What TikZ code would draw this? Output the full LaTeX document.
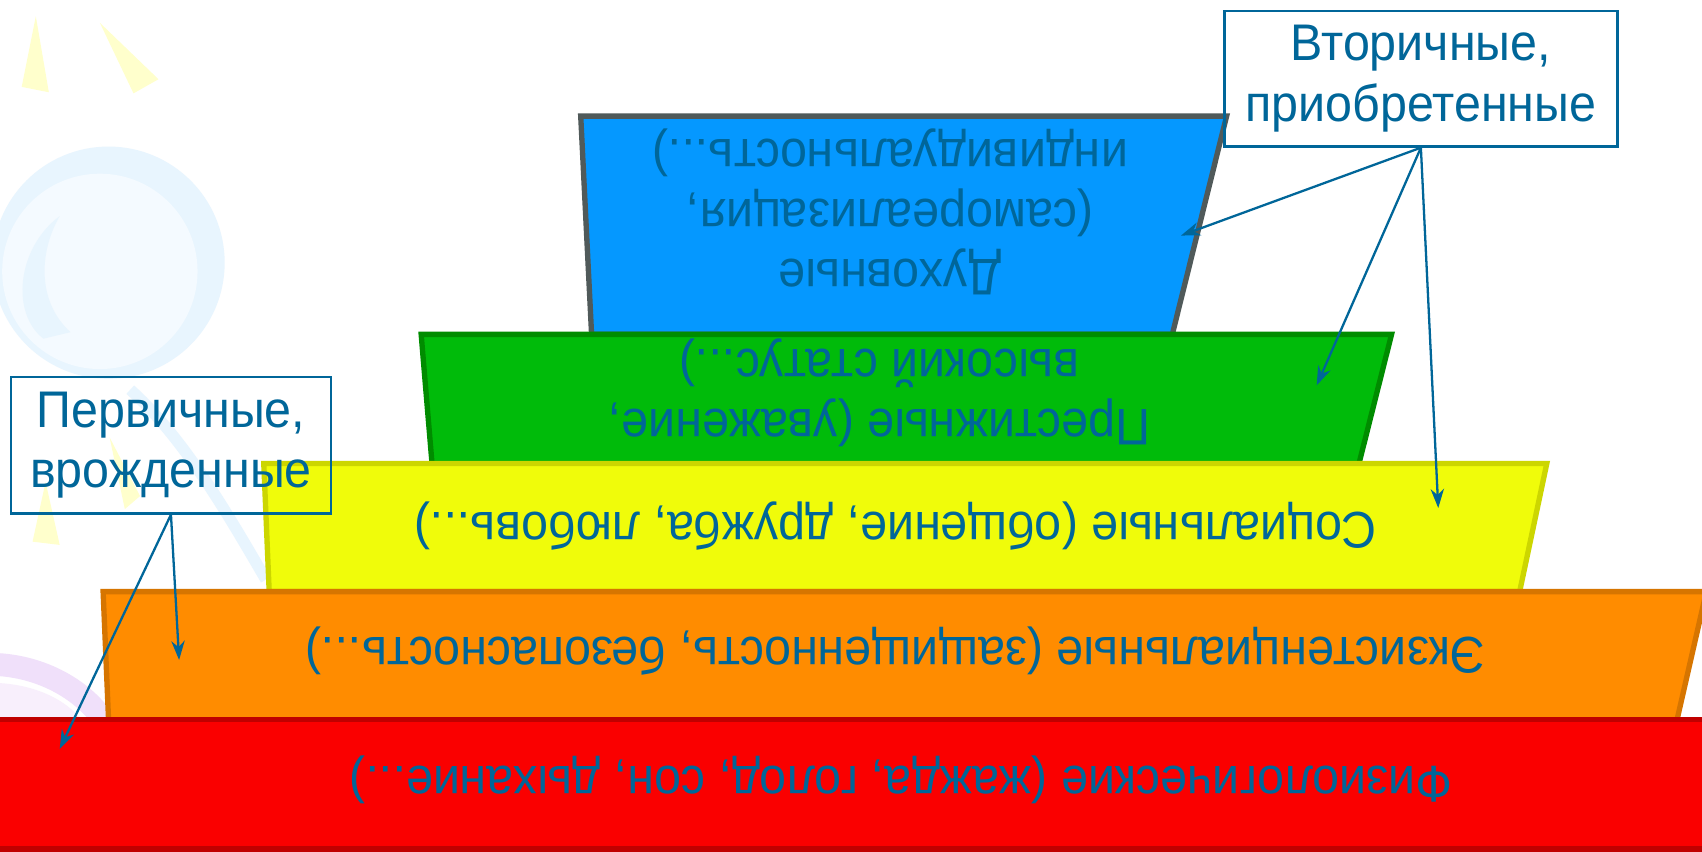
\documentclass[tikz,border=0pt]{standalone}
\usepackage{fontspec}
\setmainfont[FakeStretch=0.94]{Liberation Sans}
\usepackage{tikz}
\usetikzlibrary{arrows.meta, positioning, calc}
\definecolor{labelblue}{RGB}{0,102,153}
\definecolor{skyfill}{RGB}{5,152,255}
\definecolor{skyline}{RGB}{80,90,90}
\definecolor{grassfill}{RGB}{0,187,10}
\definecolor{grassline}{RGB}{0,140,0}
\definecolor{lemonfill}{RGB}{240,252,10}
\definecolor{lemonline}{RGB}{204,214,0}
\definecolor{amberfill}{RGB}{255,140,0}
\definecolor{amberline}{RGB}{214,117,0}
\definecolor{rubyfill}{RGB}{250,0,0}
\definecolor{rubyline}{RGB}{192,0,0}
\definecolor{paleyellow}{RGB}{255,255,204}
\definecolor{paleblue}{RGB}{232,245,254}
\definecolor{palerblue}{RGB}{244,250,255}
\definecolor{palepurple}{RGB}{240,224,250}

\begin{document}
\begin{tikzpicture}[
    layer/.style={line width=1.4pt, line join=miter},
    need/.style={
        rotate=180, align=center,
        text=labelblue,
        font=\fontsize{13.5}{15.8}\selectfont
    },
    tag/.style={
        rectangle, draw=labelblue, line width=0.6pt,
        align=center, text=labelblue,
        font=\fontsize{13.5}{15.8}\selectfont
    },
    arr/.style={-{Stealth[length=5pt, width=3.5pt]}, line width=0.6pt, color=labelblue},
]
\useasboundingbox (0,0) rectangle (15.68,7.84);
\fill[white] (0,0) rectangle (15.68,7.84);

% Background
\fill[paleyellow] (0.33,7.69) -- (0.20,7.04) -- (0.45,6.99) -- cycle;
\fill[paleyellow] (0.92,7.63) -- (1.46,7.11) -- (1.23,6.98) -- cycle;
\fill[paleblue] (1.00,5.42) circle (1.07);
\fill[palerblue] (0.92,5.34) circle (0.90);
\fill[paleblue] (0.55,5.85) .. controls (0.15,5.55) and (0.10,4.95) .. (0.40,4.72)
    -- (0.65,4.78) .. controls (0.35,5.05) and (0.35,5.50) .. (0.55,5.85) -- cycle;
\draw[paleblue, line width=3pt] (1.20,4.25) .. controls (1.70,3.80) and (2.10,3.10) .. (2.45,2.50);
\fill[paleyellow] (0.42,3.40) -- (0.30,2.85) -- (0.55,2.82) -- cycle;
\fill[paleyellow] (1.01,3.81) -- (1.29,3.27) -- (1.15,3.15) -- cycle;
\draw[palepurple, line width=6pt] (-0.1,1.72) .. controls (0.35,1.72) and (0.75,1.50) .. (0.95,1.21);
\fill[palepurple!50] (-0.1,1.55) .. controls (0.3,1.55) and (0.6,1.40) .. (0.75,1.21) -- (-0.1,1.21) -- cycle;

% Pyramid, top to bottom
\draw[layer, fill=skyfill, draw=skyline] (5.35,6.77) -- (11.30,6.77) -- (10.80,4.76) -- (5.45,4.76) -- cycle;
\draw[layer, fill=grassfill, draw=grassline] (3.88,4.76) -- (12.82,4.76) -- (12.52,3.57) -- (3.98,3.57) -- cycle;
\draw[layer, fill=lemonfill, draw=lemonline] (2.43,3.57) -- (14.25,3.57) -- (14.00,2.39) -- (2.48,2.39) -- cycle;
\draw[layer, fill=amberfill, draw=amberline] (0.95,2.39) -- (15.72,2.39) -- (15.45,1.21) -- (1.00,1.21) -- cycle;
\draw[layer, fill=rubyfill, draw=rubyline] (-0.2,1.21) -- (15.9,1.21) -- (15.9,0.02) -- (-0.2,0.02) -- cycle;

% Texts
\node[need] (spirit) at (8.20,5.89) {Духовные\\(самореализация,\\индивидуальность...)};
\node[need] (prestige) at (8.10,4.22) {Престижные (уважение,\\высокий статус...)};
\node[need] (social) at (8.25,2.99) {Социальные (общение, дружба, любовь...)};
\node[need] (exist) at (8.25,1.84) {Экзистенциальные (защищенность, безопасность...)};
\node[need] (physio) at (8.30,0.66) {Физиологические (жажда, голод, сон, дыхание...)};

% Labels
\node[tag, minimum width=3.62cm, minimum height=1.25cm] (secondary) at (13.09,7.115) {Вторичные,\\приобретенные};
\node[tag, minimum width=2.95cm, minimum height=1.26cm] (primary) at (1.575,3.74) {Первичные,\\врожденные};

% Arrow ends
\coordinate (inspirit) at (10.88,5.67);
\coordinate (inprestige) at (12.13,4.29);
\coordinate (insocial) at (13.25,3.16);
\coordinate (inexist) at (1.65,1.76);
\coordinate (inphysio) at (0.55,0.94);

\draw[arr] (secondary.south) -- (inspirit);
\draw[arr] (secondary.south) -- (inprestige);
\draw[arr] (secondary.south) -- (insocial);
\draw[arr] (primary.south) -- (inexist);
\draw[arr] (primary.south) -- (inphysio);

\end{tikzpicture}
\end{document}
